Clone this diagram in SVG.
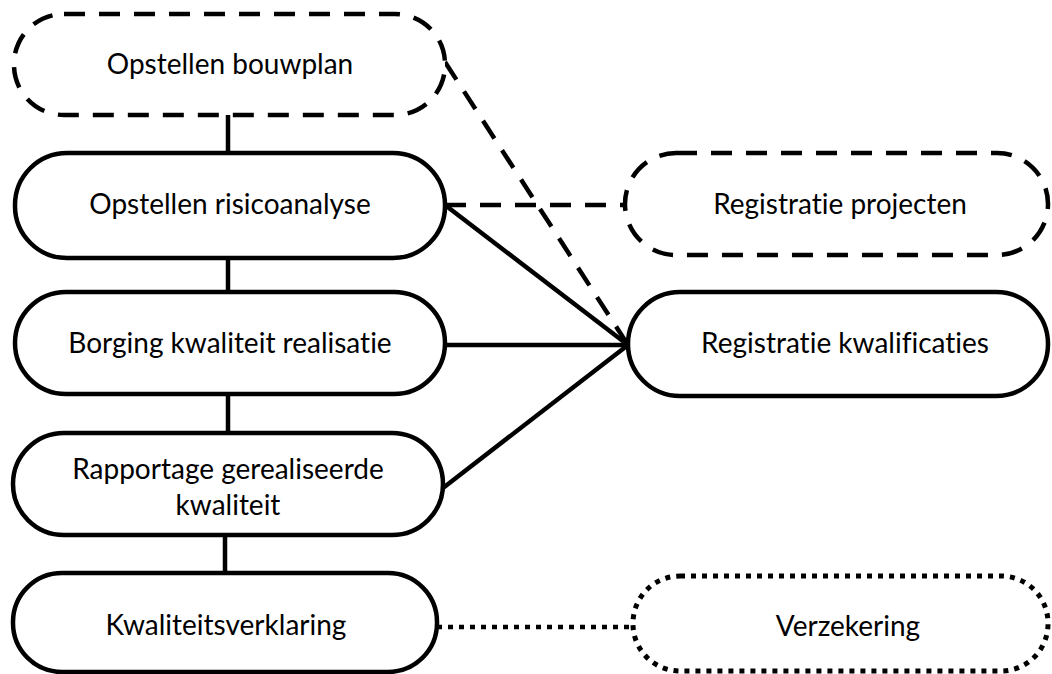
<svg xmlns="http://www.w3.org/2000/svg" width="1052" height="674" viewBox="0 0 1052 674">
<style>
.n{fill:#fff;stroke:#000;stroke-width:4.5}
.dash{stroke-dasharray:21 14}
.dot{stroke-dasharray:5 6;stroke-width:5}
.c{fill:none;stroke:#000;stroke-width:4.5}
text{font-family:Lato,"Open Sans","Liberation Sans",sans-serif;font-size:28px;fill:#000;text-anchor:middle;font-variant-ligatures:none;font-feature-settings:"liga" 0,"clig" 0,"dlig" 0}
</style>
<rect width="1052" height="674" fill="#fff"/>
<g id="connectors">
<line class="c" x1="228" y1="115" x2="228" y2="153"/>
<line class="c" x1="228" y1="258" x2="228" y2="292"/>
<line class="c" x1="228" y1="394" x2="228" y2="433"/>
<line class="c" x1="225" y1="535" x2="225" y2="573"/>
<line class="c dash" x1="445" y1="62" x2="628" y2="345"/>
<line class="c dash" x1="445" y1="205" x2="625" y2="205"/>
<line class="c" x1="445" y1="205" x2="628" y2="345"/>
<line class="c" x1="445" y1="345" x2="628" y2="345"/>
<line class="c" x1="443" y1="488" x2="628" y2="345"/>
<line class="c dot" x1="437" y1="627" x2="633" y2="627"/>
</g>
<g id="n1"><rect class="n dash" x="14" y="14" width="431" height="101" rx="50" ry="50"/><text x="230" y="74">Opstellen bouwplan</text></g>
<g id="n2"><rect class="n" x="15" y="153" width="430" height="105" rx="52" ry="52"/><text x="230" y="214">Opstellen risicoanalyse</text></g>
<g id="n3"><rect class="n" x="15" y="292" width="430" height="102" rx="51" ry="51"/><text x="230" y="353">Borging kwaliteit realisatie</text></g>
<g id="n4"><rect class="n" x="13" y="433" width="430" height="102" rx="51" ry="51"/><text x="228" y="479">Rapportage gerealiseerde</text><text x="228" y="515">kwaliteit</text></g>
<g id="n5"><rect class="n" x="13" y="573" width="424" height="99" rx="49" ry="49"/><text x="226" y="635">Kwaliteitsverklaring</text></g>
<g id="n6"><rect class="n dash" x="625" y="153" width="423" height="102" rx="51" ry="51"/><text x="840" y="214">Registratie projecten</text></g>
<g id="n7"><rect class="n" x="628" y="292" width="420" height="104" rx="52" ry="52"/><text x="845" y="353">Registratie kwalificaties</text></g>
<g id="n8"><rect class="n dot" x="633" y="576" width="415" height="95" rx="47" ry="47"/><text x="848" y="636">Verzekering</text></g>
</svg>
